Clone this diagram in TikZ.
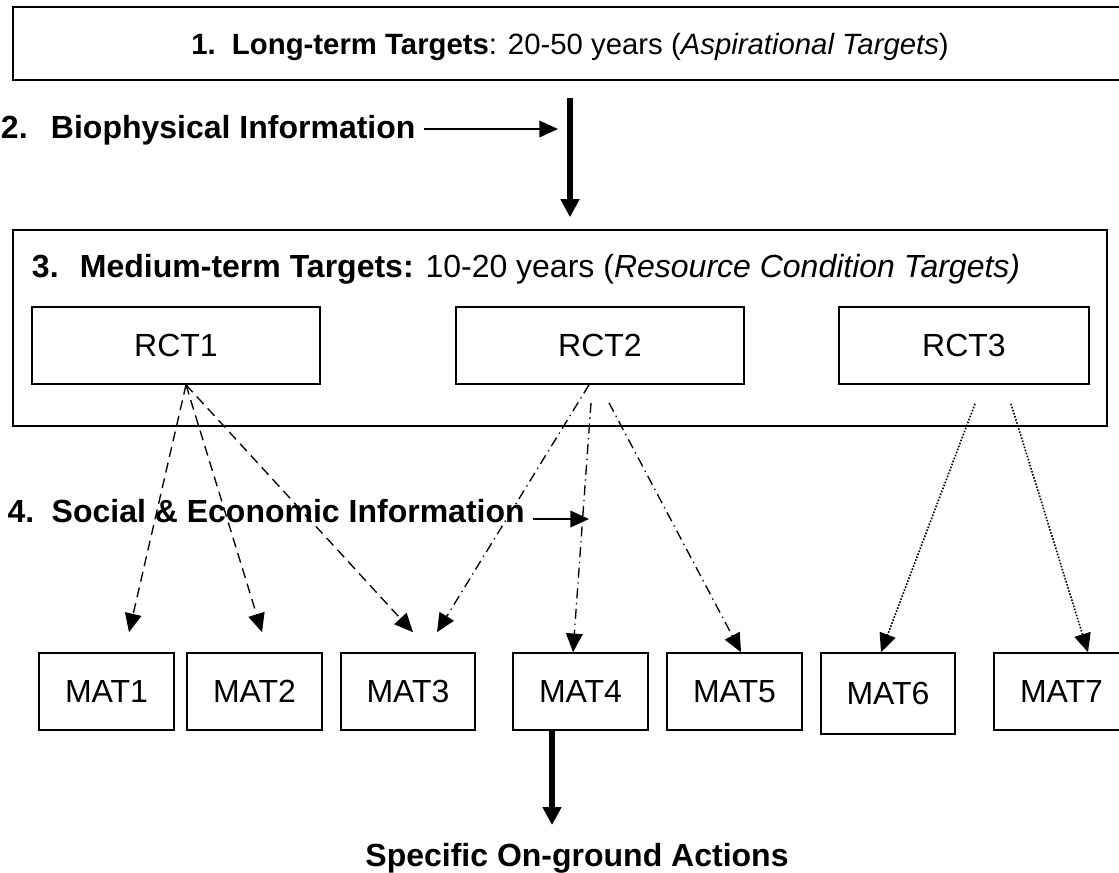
\documentclass[tikz,border=0pt]{standalone}
\usepackage{fontspec}
\setmainfont{Liberation Sans}
\usetikzlibrary{arrows.meta,calc}

\tikzset{
	,mybox/.style   = {rectangle, draw=black, line width=1.2pt, inner sep=0pt, text height=17.2pt, text depth=0pt, font=\fontsize{24}{28}\selectfont}
	,rctbox/.style  = {mybox, minimum width=216pt, minimum height=57.75pt}
	,matbox/.style  = {mybox, minimum width=101.25pt, minimum height=57.75pt}
	,mylabel/.style = {inner sep=0pt, anchor=base west, font=\fontsize{24}{28}\selectfont}
	,thinar/.style  = {-{Triangle[length=14pt,width=12.5pt]}, line width=1pt}
	,bigar/.style   = {-{Triangle[length=13.5pt,width=13.5pt]}, line width=4pt}
	,dashar/.style  = {thinar, line width=1pt, dash pattern=on 7.5pt off 4.5pt}
	,dashdotar/.style = {thinar, line width=1pt, dash pattern=on 7.5pt off 3.5pt on 1pt off 3.5pt}
	,dotar/.style   = {thinar, line width=1.2pt, dash pattern=on 1.2pt off 1.2pt}
}

\begin{document}
\begin{tikzpicture}[x=0.75pt, y=-0.75pt]
	\useasboundingbox (0,0) rectangle (1119,872);
	% targets
	\node[mybox, minimum width=835.5pt, minimum height=54.75pt, text height=15.75pt, font=\fontsize{22}{26}\selectfont] (top) at (570,43.5)
		{\textbf{1.\hspace{12.2pt}Long-term Targets}: 20-50 years (\textit{Aspirational Targets})};
	\node[mybox, minimum width=820.5pt, minimum height=147pt] (mid) at (560,328) {};
	\node[mylabel] (midlabel) at (31.7,277) {\textbf{3.\hspace{16pt}Medium-term Targets:} 10-20 years (\textit{Resource Condition Targets)}};
	\node[rctbox] (rct1) at (176,345.5) {RCT1};
	\node[rctbox] (rct2) at (600,345.5) {RCT2};
	\node[rctbox, minimum width=187.5pt] (rct3) at (964,345.5) {RCT3};
	% management action targets
	\node[matbox] (mat1) at (106.5,691.5) {MAT1};
	\node[matbox] (mat2) at (254.5,691.5) {MAT2};
	\node[matbox, minimum width=100.5pt] (mat3) at (408,691.5) {MAT3};
	\node[matbox] (mat4) at (580.5,691.5) {MAT4};
	\node[matbox] (mat5) at (734.5,691.5) {MAT5};
	\node[matbox, minimum width=100.5pt, minimum height=60.75pt] (mat6) at (888,693.5) {MAT6};
	\node[matbox] (mat7) at (1061.5,691.5) {MAT7};
	% information
	\node[mylabel] (bio) at (0.7,138) {\textbf{2.\hspace{17.5pt}Biophysical Information}};
	\node[mylabel] (soc) at (7.4,522) {\textbf{4.\hspace{13pt}Social \& Economic Information}};
	\node[mylabel, anchor=base] (act) at (577,866) {\textbf{Specific On-ground Actions}};
	\coordinate (bioin) at (558,129);
	\coordinate (socin) at (589,519);
	\coordinate (acttip) at (552,825);
	\coordinate (r1) at ($(rct1.south)+(10,0)$);

	\draw[bigar, shorten <=12.75pt, shorten >=9pt] (top.south) -- (top.south |- mid.north);
	\draw[thinar, shorten <=6pt] (bio.east |- bioin) -- (bioin);
	\draw[thinar, shorten <=6pt] (soc.east |- socin) -- (socin);
	\draw[bigar] (mat4.south -| acttip) -- (acttip);

	\draw[dashar] (r1) -- ($(mat1.north)+(22.5,-20)$);
	\draw[dashar] (r1) -- ($(mat2.north)+(7.5,-20)$);
	\draw[dashar] (r1) -- ($(mat3.north)+(5,-20)$);
	\draw[dashdotar] ($(rct2.south)+(-11,0)$) -- ($(mat3.north)+(29,-20)$);
	\draw[dashdotar] ($(rct2.south)+(-9,18)$) -- ($(mat4.north)+(-7.5,0)$);
	\draw[dashdotar] ($(rct2.south)+(9,18)$) -- ($(mat5.north)+(6.5,0)$);
	\draw[dotar] ($(rct3.south)+(11,19)$) -- ($(mat6.north)+(-7,0)$);
	\draw[dotar] ($(rct3.south)+(47,19)$) -- ($(mat7.north)+(26.5,0)$);
\end{tikzpicture}
\end{document}
